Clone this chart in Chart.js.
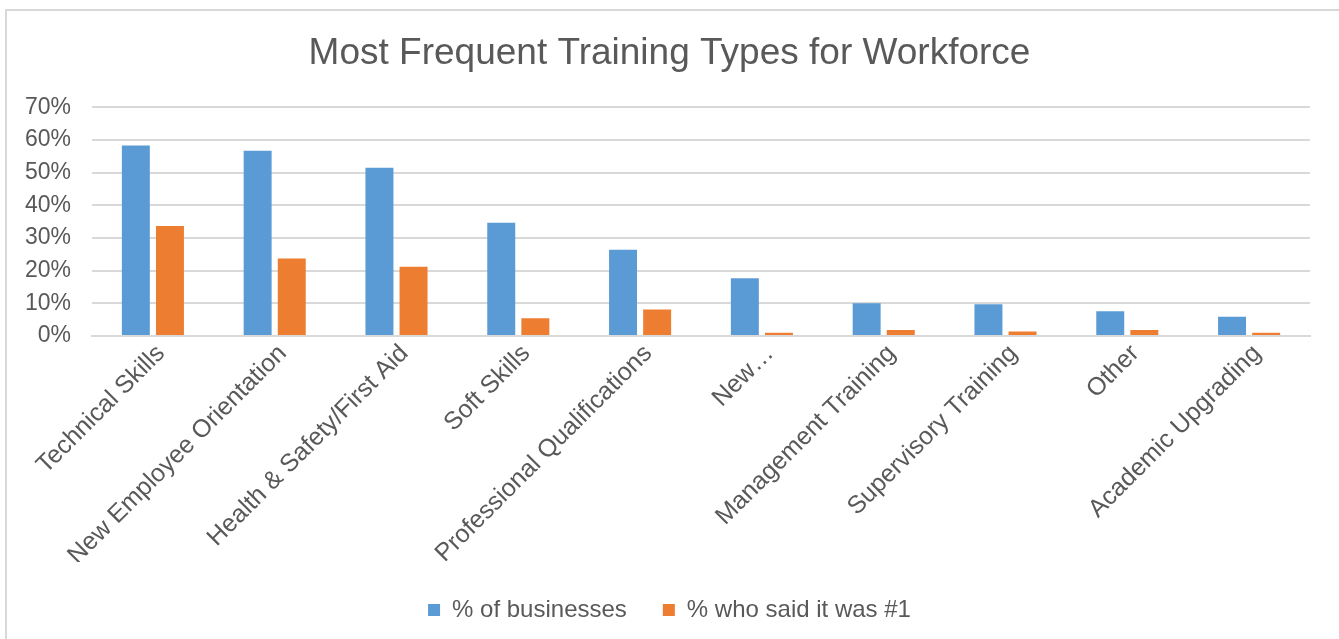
<!DOCTYPE html>
<html>
<head>
<meta charset="utf-8">
<title>Training Types</title>
<script src="https://cdn.jsdelivr.net/npm/chart.js@4"></script>
<style>
    html, body {
        margin: 0;
        padding: 0;
        background: #ffffff;
        overflow: hidden;
    }
    #frame {
        position: absolute;
        left: 5px;
        top: 9px;
        width: 1400px;
        height: 700px;
        border-top: 2px solid #d9d9d9;
        border-left: 2px solid #d9d9d9;
    }
    #wrap {
        position: absolute;
        left: 0;
        top: 0;
        width: 1339px;
        height: 639px;
    }
</style>
</head>
<body>
<div id="frame"></div>
<div id="wrap"><canvas id="chart"></canvas></div>
<script>
// Training categories (x axis)
const categories = [
    'Technical Skills',
    'New Employee Orientation',
    'Health & Safety/First Aid',
    'Soft Skills',
    'Professional Qualifications',
    'New…',
    'Management Training',
    'Supervisory Training',
    'Other',
    'Academic Upgrading'
];

// Percent of businesses offering each type
const pctBusinesses = [58.3, 56.7, 51.5, 34.7, 26.4, 17.7, 10.0, 9.7, 7.6, 5.9];

// Percent who ranked it as the #1 type
const pctNumberOne = [33.7, 23.7, 21.2, 5.4, 8.1, 1.0, 1.8, 1.4, 1.8, 1.0];

// Y axis range / ticks
const yMin = 0;
const yMax = 70;
const yStep = 10;

const TEXT_COLOR = '#595959';
const GRID_COLOR = '#d9d9d9';
const FONT = 'Liberation Sans, Arial, sans-serif';

const ctx = document.getElementById('chart').getContext('2d');
new Chart(ctx, {
    type: 'bar',
    data: {
        labels: categories,
        datasets: [
            {
                label: '% of businesses',
                data: pctBusinesses,
                backgroundColor: '#5b9bd5',
                categoryPercentage: 0.56,
                barPercentage: 0.82
            },
            {
                label: '% who said it was #1',
                data: pctNumberOne,
                backgroundColor: '#ed7d31',
                categoryPercentage: 0.56,
                barPercentage: 0.82
            }
        ]
    },
    options: {
        responsive: true,
        maintainAspectRatio: false,
        animation: false,
        layout: {
            padding: { left: 5, right: 5, top: 10, bottom: 7 }
        },
        plugins: {
            title: {
                display: true,
                text: 'Most Frequent Training Types for Workforce',
                color: TEXT_COLOR,
                font: { family: FONT, size: 37, weight: 'normal' },
                padding: { top: 22, bottom: 31 }
            },
            legend: {
                position: 'bottom',
                labels: {
                    color: TEXT_COLOR,
                    font: { family: FONT, size: 24 },
                    boxWidth: 12,
                    boxHeight: 12,
                    padding: 36
                }
            },
            tooltip: { enabled: false }
        },
        scales: {
            x: {
                grid: { display: false, drawTicks: false },
                border: { color: GRID_COLOR, width: 2 },
                ticks: {
                    color: TEXT_COLOR,
                    font: { family: FONT, size: 25 },
                    maxRotation: 45,
                    minRotation: 45,
                    autoSkip: false,
                    padding: 3,
                    labelOffset: 8
                },
                afterFit: function(scale) {
                    scale.height = 226;
                }
            },
            y: {
                min: yMin,
                max: yMax,
                grid: { color: GRID_COLOR, lineWidth: 2, drawTicks: false },
                border: { display: false },
                ticks: {
                    stepSize: yStep,
                    color: TEXT_COLOR,
                    font: { family: FONT, size: 23 },
                    padding: 21,
                    callback: function(value) {
                        return value + '%';
                    }
                },
                afterFit: function(scale) {
                    scale.width = 87;
                }
            },
            // empty right-hand spacer so the plot ends short of the edge
            // while the title and legend stay centred on the canvas
            spacer: {
                type: 'linear',
                position: 'right',
                grid: { display: false, drawTicks: false },
                border: { display: false },
                ticks: { display: false },
                afterFit: function(scale) {
                    scale.width = 24;
                }
            }
        }
    }
});
</script>
</body>
</html>
